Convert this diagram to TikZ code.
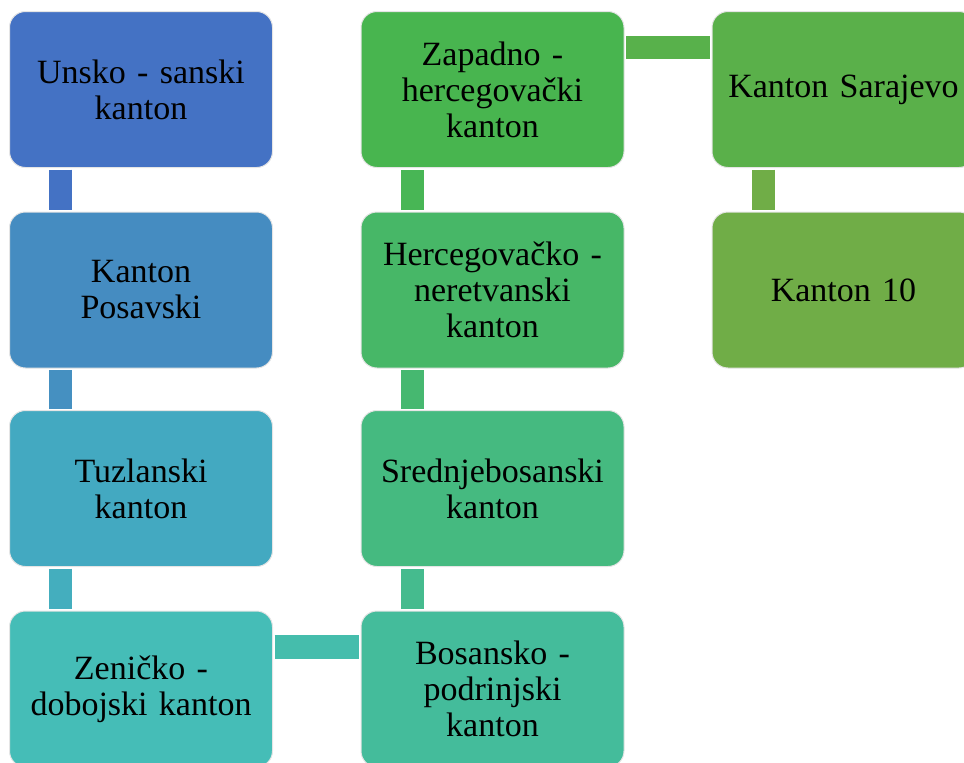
\documentclass[tikz,border=0pt]{standalone}
\usepackage{fontspec}
\setmainfont{Liberation Serif}

\definecolor{kt1}{HTML}{4472C4}
\definecolor{kt2}{HTML}{458CC1}
\definecolor{kt3}{HTML}{43A9C1}
\definecolor{kt4}{HTML}{45BDB7}
\definecolor{kt5}{HTML}{44BC9B}
\definecolor{kt6}{HTML}{45BA80}
\definecolor{kt7}{HTML}{47B767}
\definecolor{kt8}{HTML}{48B54F}
\definecolor{kt9}{HTML}{5AB04A}
\definecolor{kt10}{HTML}{70AD47}

\begin{document}
\begin{tikzpicture}[x=1pt,y=-1pt]

      \useasboundingbox (0,0) rectangle (964,763);
      \clip (0,0) rectangle (964,763);

      \begin{scope}[every node/.style={rectangle, rounded corners=16pt, draw=white!90!black, line width=1pt,
          minimum width=263pt, minimum height=156pt, inner sep=0pt, text width=250pt, align=center,
          font=\fontsize{34}{36}\selectfont}]
        \node[fill=kt1]  (1)  at (141,89.5)   {Unsko - sanski\\kanton};
        \node[fill=kt2]  (2)  at (141,290)    {Kanton\\Posavski};
        \node[fill=kt3]  (3)  at (141,488.5)  {Tuzlanski\\kanton};
        \node[fill=kt4]  (4)  at (141,689)    {Zeničko -\\dobojski kanton};
        \node[fill=kt5]  (5)  at (492.5,689)  {Bosansko -\\podrinjski\\kanton};
        \node[fill=kt6]  (6)  at (492.5,488.5) {Srednjebosanski\\kanton};
        \node[fill=kt7]  (7)  at (492.5,290)  {Hercegovačko -\\neretvanski\\kanton};
        \node[fill=kt8]  (8)  at (492.5,89.5) {Zapadno -\\hercegovački\\kanton};
        \node[fill=kt9]  (9)  at (843.5,89.5) {Kanton Sarajevo};
        \node[fill=kt10] (10) at (843.5,290)  {Kanton 10};
      \end{scope}

      \begin{scope}[every path/.style={line width=23.3pt, shorten <=1.5pt, shorten >=1.5pt}]
        \draw[kt1]              ([xshift=51.7pt]1.south west) -- ([xshift=51.7pt]2.north west);
        \draw[kt2!88!kt3]       ([xshift=51.7pt]2.south west) -- ([xshift=51.7pt]3.north west);
        \draw[kt3!75!kt4]       ([xshift=51.7pt]3.south west) -- ([xshift=51.7pt]4.north west);
        \draw[kt4!62!kt5]       ([yshift=-36.5pt]4.north east) -- ([yshift=-36.5pt]5.north west);
        \draw[kt5!50!kt6]       ([xshift=51.7pt]5.north west) -- ([xshift=51.7pt]6.south west);
        \draw[kt6!38!kt7]       ([xshift=51.7pt]6.north west) -- ([xshift=51.7pt]7.south west);
        \draw[kt7!25!kt8]       ([xshift=51.7pt]7.north west) -- ([xshift=51.7pt]8.south west);
        \draw[kt8!12!kt9]       ([yshift=-36.5pt]8.north east) -- ([yshift=-36.5pt]9.north west);
        \draw[kt10]             ([xshift=51.7pt]9.south west) -- ([xshift=51.7pt]10.north west);
      \end{scope}

    \end{tikzpicture}
\end{document}
